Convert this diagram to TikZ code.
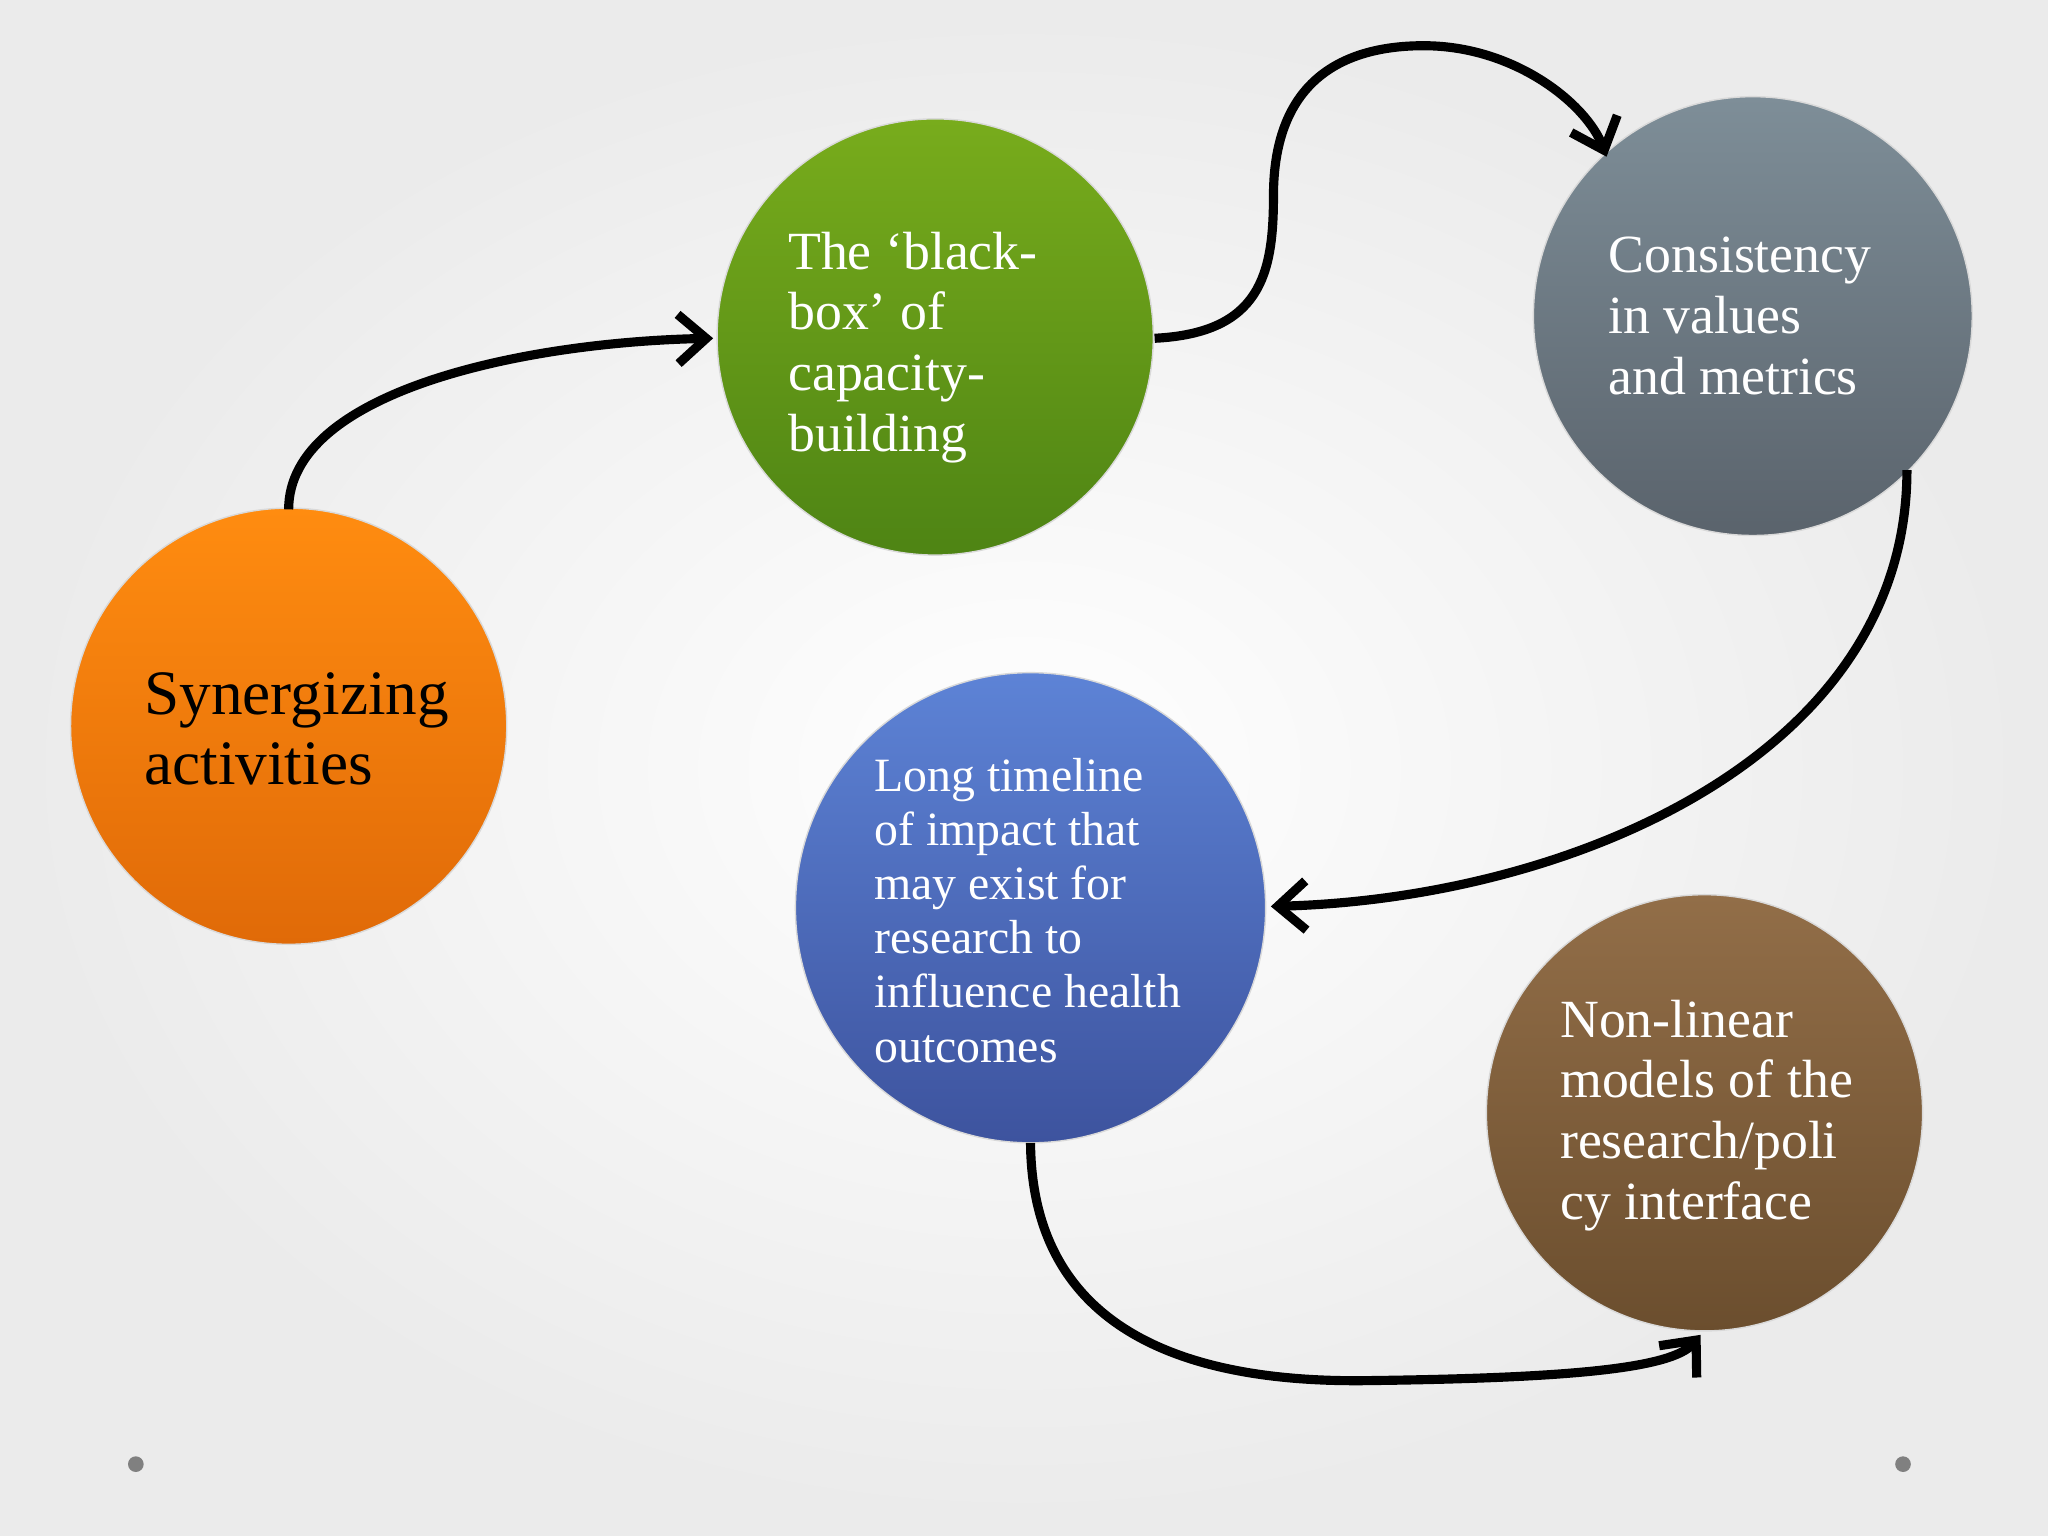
\documentclass[tikz,border=0pt]{standalone}
\usepackage{fontspec}
\setmainfont{Liberation Serif}
\usetikzlibrary{arrows.meta}
\definecolor{gT}{HTML}{78AC1C}\definecolor{gB}{HTML}{4E8414}
\definecolor{sT}{HTML}{7E8E98}\definecolor{sB}{HTML}{5A636C}
\definecolor{bT}{HTML}{5D83D6}\definecolor{bB}{HTML}{3D539E}
\definecolor{rT}{HTML}{926E48}\definecolor{rB}{HTML}{6B4E2E}
\definecolor{oT}{HTML}{FF8C10}\definecolor{oB}{HTML}{E06A08}
\begin{document}
\begin{tikzpicture}[x=0.013061cm,y=-0.013061cm,
  ball/.style={circle,minimum size=#1,inner sep=0pt,draw=black!15},
  lbl/.style={align=left,anchor=west,font=\fontsize{15.3}{17.3}\selectfont,text=white},
  conn/.style={line width=2.6pt,-{Straight Barb[length=8pt,width=14pt,line width=2.6pt]}}]
\shade[inner color=white,outer color=black!8] (0,0) rectangle (1568,1176);
\useasboundingbox (0,0) rectangle (1568,1176);
\node[ball=334*0.013061cm,top color=oT,bottom color=oB] (o) at (221,556) {};
\node[ball=334*0.013061cm,top color=gT,bottom color=gB] (g) at (716,258) {};
\node[ball=336*0.013061cm,top color=sT,bottom color=sB] (s) at (1342,242) {};
\node[ball=360*0.013061cm,top color=bT,bottom color=bB] (b) at (789,695) {};
\node[ball=334*0.013061cm,top color=rT,bottom color=rB] (r) at (1305,852) {};
\node[lbl,text=black,font=\fontsize{18}{20}\selectfont] (to) at (101,558) {Synergizing\\activities};
\node[lbl] (tg) at (594,266) {The ‘black-\\box’ of\\capacity-\\building};
\node[lbl] (ts) at (1222,242) {Consistency\\in values\\and metrics};
\node[lbl,font=\fontsize{13.6}{15.4}\selectfont] (tb) at (660,697) {Long timeline\\of impact that\\may exist for\\research to\\influence health\\outcomes};
\node[lbl] (tr) at (1185,854) {Non-linear\\models of the\\research/poli\\cy interface};
\coordinate (a1) at (221,390); \coordinate (a1e) at (546,259);
\draw[conn] (a1) .. controls (221,300) and (400,262) .. (a1e);
\coordinate (a2) at (884,259); \coordinate (a2m) at (975,150); \coordinate (a2n) at (1090,35); \coordinate (a2e) at (1230,120);
\draw[conn] (a2) .. controls (965,255) and (975,210) .. (a2m) .. controls (975,60) and (1030,35) .. (a2n) .. controls (1160,35) and (1215,80) .. (a2e);
\coordinate (a3) at (1460,360); \coordinate (a3e) at (973,694);
\draw[conn] (a3) .. controls (1460,580) and (1200,688) .. (a3e);
\coordinate (a4) at (789,875); \coordinate (a4m) at (1050,1057); \coordinate (a4e) at (1302,1022);
\draw[conn] (a4) .. controls (790,1000) and (880,1060) .. (a4m) .. controls (1200,1055) and (1280,1048) .. (a4e);
\fill[gray] (104,1121) circle (6); \fill[gray] (1457,1121) circle (6);
\end{tikzpicture}
\end{document}
